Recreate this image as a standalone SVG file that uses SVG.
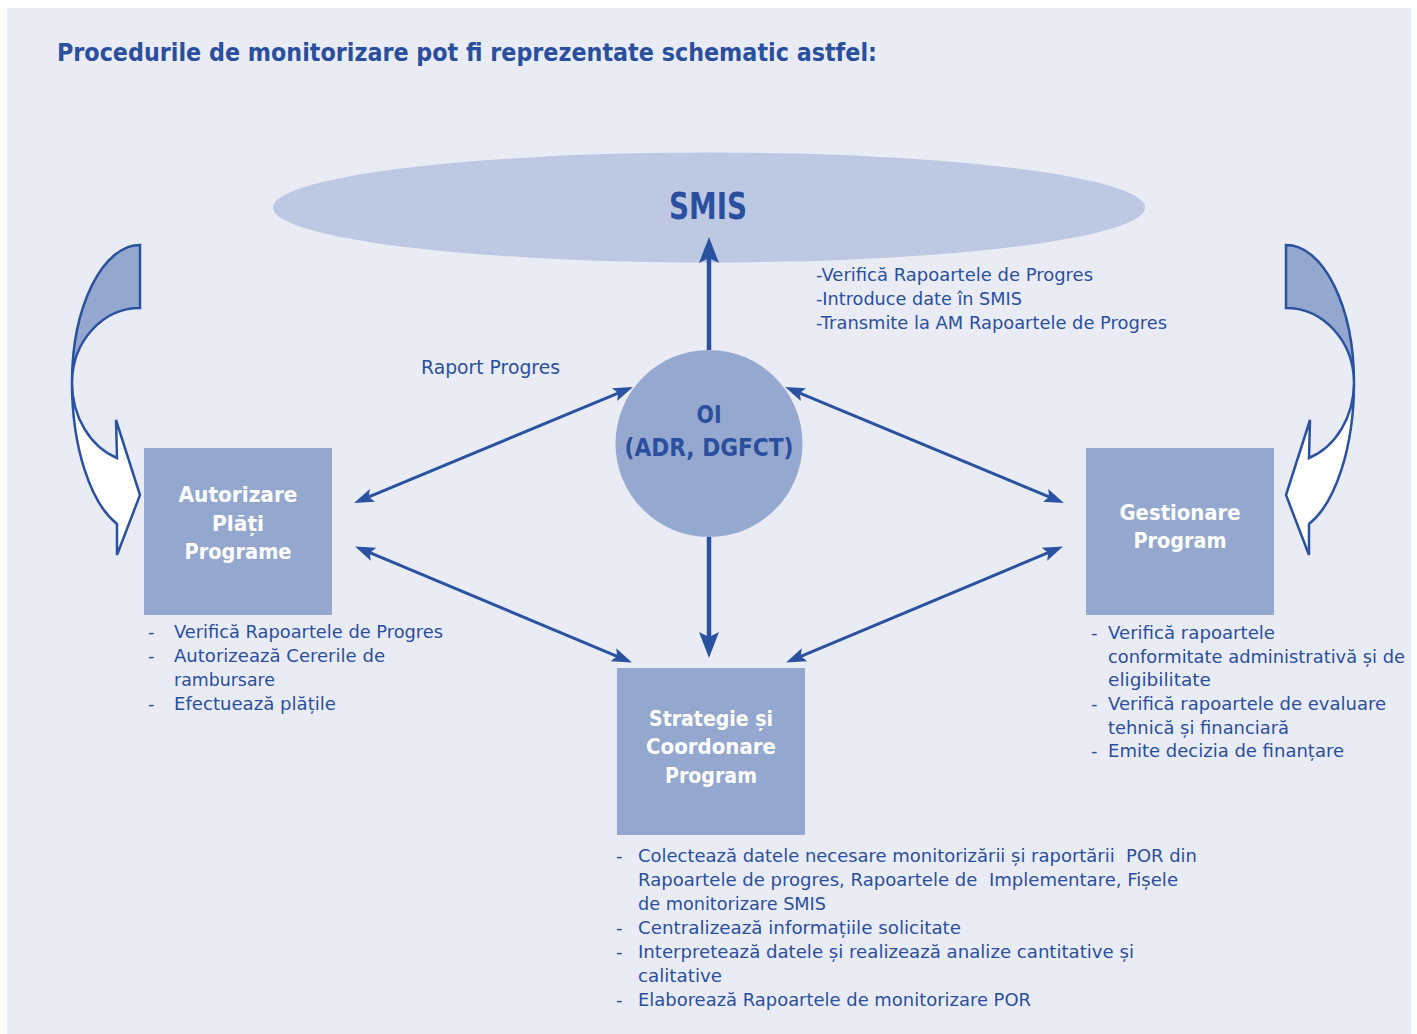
<svg xmlns="http://www.w3.org/2000/svg" width="1417" height="1034" viewBox="0 0 1417 1034">
<style>
text{font-family:"DejaVu Sans","Liberation Sans",sans-serif;fill:#2B4F9F}
.t{font-size:18px}
.b{font-weight:bold}
.w{fill:#FFFFFF;font-weight:bold;font-size:21px}
.box{fill:#94A8CF}
.cv{stroke:#2A52A0;stroke-width:2.5;stroke-linejoin:miter}
.thin{stroke:#2A52A0;stroke-width:3;fill:none}
.thick{stroke:#2A52A0;stroke-width:4.5;fill:none}
</style>
<defs>
<marker id="ah" markerUnits="userSpaceOnUse" markerWidth="20" markerHeight="16" viewBox="0 0 20 16" refX="4" refY="8" orient="auto-start-reverse">
<path d="M0,1 L20,8 L0,15 L4,8 Z" fill="#2A52A0"/>
</marker>
<marker id="ahb" markerUnits="userSpaceOnUse" markerWidth="26" markerHeight="20" viewBox="0 0 26 20" refX="5" refY="10" orient="auto">
<path d="M0,0 L26,10 L0,20 L5,10 Z" fill="#2A52A0"/>
</marker>
<g id="curve">
<path class="cv" fill="#94A8CF" d="M140,245 A68,138 0 0 0 72,383 A68,75 0 0 1 140,308 Z"/>
<path class="cv" fill="#FFFFFF" d="M72,383 A68,150 0 0 0 117,524 L117,555 L140,495 L116,420 L117,458 A68,80 0 0 1 72,383 Z"/>
</g>
</defs>
<rect x="7" y="8" width="1404" height="1026" fill="#E9ECF5"/>
<text class="b" x="57" y="61" font-size="25" textLength="820" lengthAdjust="spacingAndGlyphs">Procedurile de monitorizare pot fi reprezentate schematic astfel:</text>

<g id="smis">
<ellipse cx="709" cy="207.5" rx="436" ry="55" fill="#BDC9E2"/>
<text class="b" x="708" y="219" font-size="38" text-anchor="middle" textLength="78" lengthAdjust="spacingAndGlyphs">SMIS</text>
</g>

<g id="left-curve"><use href="#curve"/></g>
<g id="right-curve" transform="translate(1426,0) scale(-1,1)"><use href="#curve"/></g>

<g id="connectors">
<line class="thick" x1="709" y1="350" x2="709" y2="258" marker-end="url(#ahb)"/>
<line class="thick" x1="709" y1="537" x2="709" y2="637" marker-end="url(#ahb)"/>
<line class="thin" x1="368.8" y1="496.9" x2="618.2" y2="393.1" marker-start="url(#ah)" marker-end="url(#ah)"/>
<line class="thin" x1="799.8" y1="393.1" x2="1049.2" y2="496.9" marker-start="url(#ah)" marker-end="url(#ah)"/>
<line class="thin" x1="369.8" y1="552.7" x2="617.2" y2="656.3" marker-start="url(#ah)" marker-end="url(#ah)"/>
<line class="thin" x1="1048.2" y1="552.7" x2="800.8" y2="656.3" marker-start="url(#ah)" marker-end="url(#ah)"/>
</g>

<g id="smis-notes">
<text class="t" x="816" y="281" textLength="277" lengthAdjust="spacingAndGlyphs">-Verifică Rapoartele de Progres</text>
<text class="t" x="816" y="305" textLength="206" lengthAdjust="spacingAndGlyphs">-Introduce date în SMIS</text>
<text class="t" x="816" y="329" textLength="351" lengthAdjust="spacingAndGlyphs">-Transmite la AM Rapoartele de Progres</text>
</g>

<g id="raport-label">
<text x="421" y="374" font-size="19" textLength="139" lengthAdjust="spacingAndGlyphs">Raport Progres</text>
</g>

<g id="oi">
<circle cx="709" cy="443.5" r="93.5" fill="#95A9D0"/>
<text class="b" x="709" y="423" font-size="25" text-anchor="middle" textLength="25" lengthAdjust="spacingAndGlyphs">OI</text>
<text class="b" x="709" y="456" font-size="25" text-anchor="middle" textLength="169" lengthAdjust="spacingAndGlyphs">(ADR, DGFCT)</text>
</g>

<g id="autorizare">
<rect class="box" x="144" y="448" width="188" height="167"/>
<text class="w" x="238" y="502" text-anchor="middle" textLength="119" lengthAdjust="spacingAndGlyphs">Autorizare</text>
<text class="w" x="238" y="531" text-anchor="middle" textLength="52" lengthAdjust="spacingAndGlyphs">Plăți</text>
<text class="w" x="238" y="559" text-anchor="middle" textLength="107" lengthAdjust="spacingAndGlyphs">Programe</text>
<text class="t" x="148" y="638">-</text>
<text class="t" x="174" y="638" textLength="269" lengthAdjust="spacingAndGlyphs">Verifică Rapoartele de Progres</text>
<text class="t" x="148" y="662">-</text>
<text class="t" x="174" y="662" textLength="211" lengthAdjust="spacingAndGlyphs">Autorizează Cererile de</text>
<text class="t" x="174" y="686" textLength="101" lengthAdjust="spacingAndGlyphs">rambursare</text>
<text class="t" x="148" y="710">-</text>
<text class="t" x="174" y="710" textLength="162" lengthAdjust="spacingAndGlyphs">Efectuează plățile</text>
</g>

<g id="gestionare">
<rect class="box" x="1086" y="448" width="188" height="167"/>
<text class="w" x="1180" y="520" text-anchor="middle" textLength="121" lengthAdjust="spacingAndGlyphs">Gestionare</text>
<text class="w" x="1180" y="548" text-anchor="middle" textLength="93" lengthAdjust="spacingAndGlyphs">Program</text>
<text class="t" x="1091" y="639">-</text>
<text class="t" x="1108" y="639" textLength="167" lengthAdjust="spacingAndGlyphs">Verifică rapoartele</text>
<text class="t" x="1108" y="663" textLength="297" lengthAdjust="spacingAndGlyphs">conformitate administrativă și de</text>
<text class="t" x="1108" y="686" textLength="103" lengthAdjust="spacingAndGlyphs">eligibilitate</text>
<text class="t" x="1091" y="710">-</text>
<text class="t" x="1108" y="710" textLength="278" lengthAdjust="spacingAndGlyphs">Verifică rapoartele de evaluare</text>
<text class="t" x="1108" y="734" textLength="181" lengthAdjust="spacingAndGlyphs">tehnică și financiară</text>
<text class="t" x="1091" y="757">-</text>
<text class="t" x="1108" y="757" textLength="236" lengthAdjust="spacingAndGlyphs">Emite decizia de finanțare</text>
</g>

<g id="strategie">
<rect class="box" x="617" y="668" width="188" height="167"/>
<text class="w" x="711" y="726" text-anchor="middle" textLength="124" lengthAdjust="spacingAndGlyphs">Strategie și</text>
<text class="w" x="711" y="754" text-anchor="middle" textLength="130" lengthAdjust="spacingAndGlyphs">Coordonare</text>
<text class="w" x="711" y="783" text-anchor="middle" textLength="92" lengthAdjust="spacingAndGlyphs">Program</text>
<text class="t" x="616" y="862">-</text>
<text class="t" x="638" y="862" textLength="559" lengthAdjust="spacingAndGlyphs" xml:space="preserve">Colectează datele necesare monitorizării și raportării  POR din</text>
<text class="t" x="638" y="886" textLength="540" lengthAdjust="spacingAndGlyphs" xml:space="preserve">Rapoartele de progres, Rapoartele de  Implementare, Fișele</text>
<text class="t" x="638" y="910" textLength="188" lengthAdjust="spacingAndGlyphs">de monitorizare SMIS</text>
<text class="t" x="616" y="934">-</text>
<text class="t" x="638" y="934" textLength="323" lengthAdjust="spacingAndGlyphs">Centralizează informațiile solicitate</text>
<text class="t" x="616" y="958">-</text>
<text class="t" x="638" y="958" textLength="496" lengthAdjust="spacingAndGlyphs">Interpretează datele și realizează analize cantitative și</text>
<text class="t" x="638" y="982" textLength="84" lengthAdjust="spacingAndGlyphs">calitative</text>
<text class="t" x="616" y="1006">-</text>
<text class="t" x="638" y="1006" textLength="393" lengthAdjust="spacingAndGlyphs">Elaborează Rapoartele de monitorizare POR</text>
</g>
</svg>
